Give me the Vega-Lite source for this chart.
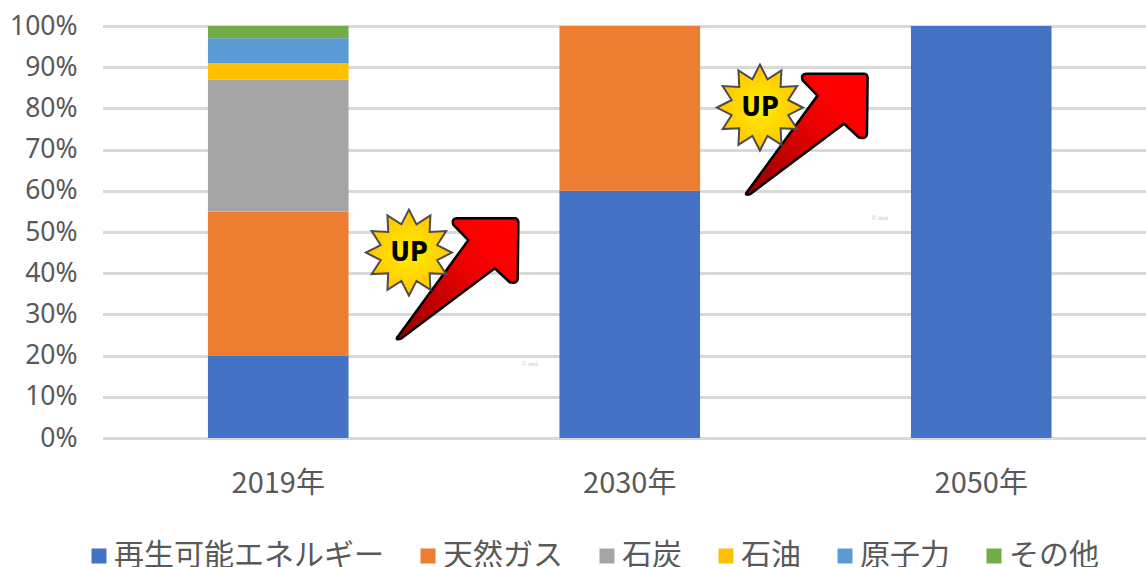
{
 "$schema":"https://vega.github.io/schema/vega-lite/v6.json",
 "autosize":{"type":"none"},
 "padding":{"left":103,"top":26,"right":0,"bottom":129},
 "width":1043,"height":412,
 "background":"white",
 "config":{"view":{"stroke":null}},
 "layer":[
  {"data":{"values":[
    {"year":"2019年","source":"再生可能エネルギー","share":0.20,"k":1},
    {"year":"2019年","source":"天然ガス","share":0.35,"k":2},
    {"year":"2019年","source":"石炭","share":0.32,"k":3},
    {"year":"2019年","source":"石油","share":0.04,"k":4},
    {"year":"2019年","source":"原子力","share":0.06,"k":5},
    {"year":"2019年","source":"その他","share":0.03,"k":6},
    {"year":"2030年","source":"再生可能エネルギー","share":0.60,"k":1},
    {"year":"2030年","source":"天然ガス","share":0.40,"k":2},
    {"year":"2050年","source":"再生可能エネルギー","share":1.0,"k":1}
   ]},
   "mark":{"type":"bar"},
   "encoding":{
    "x":{"field":"year","type":"nominal","scale":{"range":[-0.5,1054],"paddingInner":0.6,"paddingOuter":0.3},
     "axis":{"title":null,"labelAngle":0,"labelFont":"Noto Sans CJK JP","labelFontSize":29,"labelColor":"#595959","domain":false,"ticks":false,"labelPadding":31,"grid":false}},
    "y":{"field":"share","type":"quantitative","stack":"zero","scale":{"domain":[0,1],"nice":false},
     "axis":{"title":null,"format":".0%","values":[0,0.1,0.2,0.3,0.4,0.5,0.6,0.7,0.8,0.9,1],"labelFont":"Noto Sans","labelFontSize":26.5,"labelColor":"#595959","labelPadding":26,"domain":false,"ticks":false,"grid":true,"gridColor":"#D9D9D9","gridWidth":3}},
    "order":{"field":"k","type":"quantitative"},
    "color":{"field":"source","type":"nominal",
     "sort":["再生可能エネルギー","天然ガス","石炭","石油","原子力","その他"],
     "scale":{"domain":["再生可能エネルギー","天然ガス","石炭","石油","原子力","その他"],"range":["#4472C4","#ED7D31","#A5A5A5","#FFC000","#5B9BD5","#70AD47"]},
     "legend":{"title":null,"orient":"none","legendX":-19,"legendY":515,"direction":"horizontal","columns":6,"symbolType":"square","symbolSize":225,"symbolStrokeWidth":0,"labelFont":"Noto Sans CJK JP","labelFontSize":30,"labelColor":"#595959","labelLimit":400,"columnPadding":29,"labelOffset":0}}
   }},
  {"data":{"values":[{"x":1.011,"y":0.386,"label":"arrow"},{"x":2.006,"y":0.737,"label":"arrow"}]},
   "mark":{"type":"point","filled":true,"opacity":1,"size":14884,"strokeWidth":2.5,"stroke":"#000000",
    "fill":{"gradient":"linear","x1":0,"y1":1,"x2":0.8,"y2":0.2,"stops":[{"offset":0,"color":"#8f0000"},{"offset":0.75,"color":"#f00000"},{"offset":1,"color":"#ff0000"}]},
    "shape":"M-0.989 0.962L0.179 -0.636L-0.065 -0.886Q-0.1 -0.995 0 -0.995L0.935 -0.995Q1 -0.995 1 -0.924L0.989 0Q0.978 0.082 0.859 0.054L0.614 -0.174L-0.924 0.978Q-1.01 1.005 -0.989 0.962Z"},
   "encoding":{
    "x":{"field":"x","type":"quantitative","scale":{"domain":[0,3],"range":[-0.5,1052.5]},"axis":null},
    "y":{"field":"y","type":"quantitative"}
   }},
  {"data":{"values":[{"x":0.873,"y":0.45},{"x":1.873,"y":0.802}]},
   "mark":{"type":"point","filled":true,"opacity":1,"size":7396,"strokeWidth":2,"stroke":"#4d4d4d",
    "fill":{"gradient":"radial","x1":0.5,"y1":0.5,"r1":0,"x2":0.5,"y2":0.5,"r2":0.5,"stops":[{"offset":0,"color":"#FFF000"},{"offset":1,"color":"#FFC400"}]},
    "shape":"M0 -1L0.176 -0.657L0.5 -0.866L0.481 -0.481L0.866 -0.5L0.657 -0.176L1 0L0.657 0.176L0.866 0.5L0.481 0.481L0.5 0.866L0.176 0.657L0 1L-0.176 0.657L-0.5 0.866L-0.481 0.481L-0.866 0.5L-0.657 0.176L-1 0L-0.657 -0.176L-0.866 -0.5L-0.481 -0.481L-0.5 -0.866L-0.176 -0.657Z"},
   "encoding":{
    "x":{"field":"x","type":"quantitative","scale":{"domain":[0,3],"range":[-0.5,1052.5]},"axis":null},
    "y":{"field":"y","type":"quantitative"}
   }},
  {"data":{"values":[{"x":0.873,"y":0.45,"t":"UP"},{"x":1.873,"y":0.802,"t":"UP"}]},
   "mark":{"type":"text","font":"DejaVu Sans Condensed, Liberation Sans","fontWeight":"bold","fontSize":27,"color":"#000000","align":"center","baseline":"middle"},
   "encoding":{
    "x":{"field":"x","type":"quantitative","scale":{"domain":[0,3],"range":[-0.5,1052.5]},"axis":null},
    "y":{"field":"y","type":"quantitative"},
    "text":{"field":"t"}
   }},
  {"data":{"values":[{"x":1.218,"y":0.18,"t":"© dak"},{"x":2.215,"y":0.535,"t":"© dak"}]},
   "mark":{"type":"text","font":"Noto Sans","fontSize":6,"color":"#CCCCCC","align":"center","baseline":"middle"},
   "encoding":{
    "x":{"field":"x","type":"quantitative","scale":{"domain":[0,3],"range":[-0.5,1052.5]},"axis":null},
    "y":{"field":"y","type":"quantitative"},
    "text":{"field":"t"}
   }}
 ],
 "resolve":{"scale":{"x":"independent"}}
}
